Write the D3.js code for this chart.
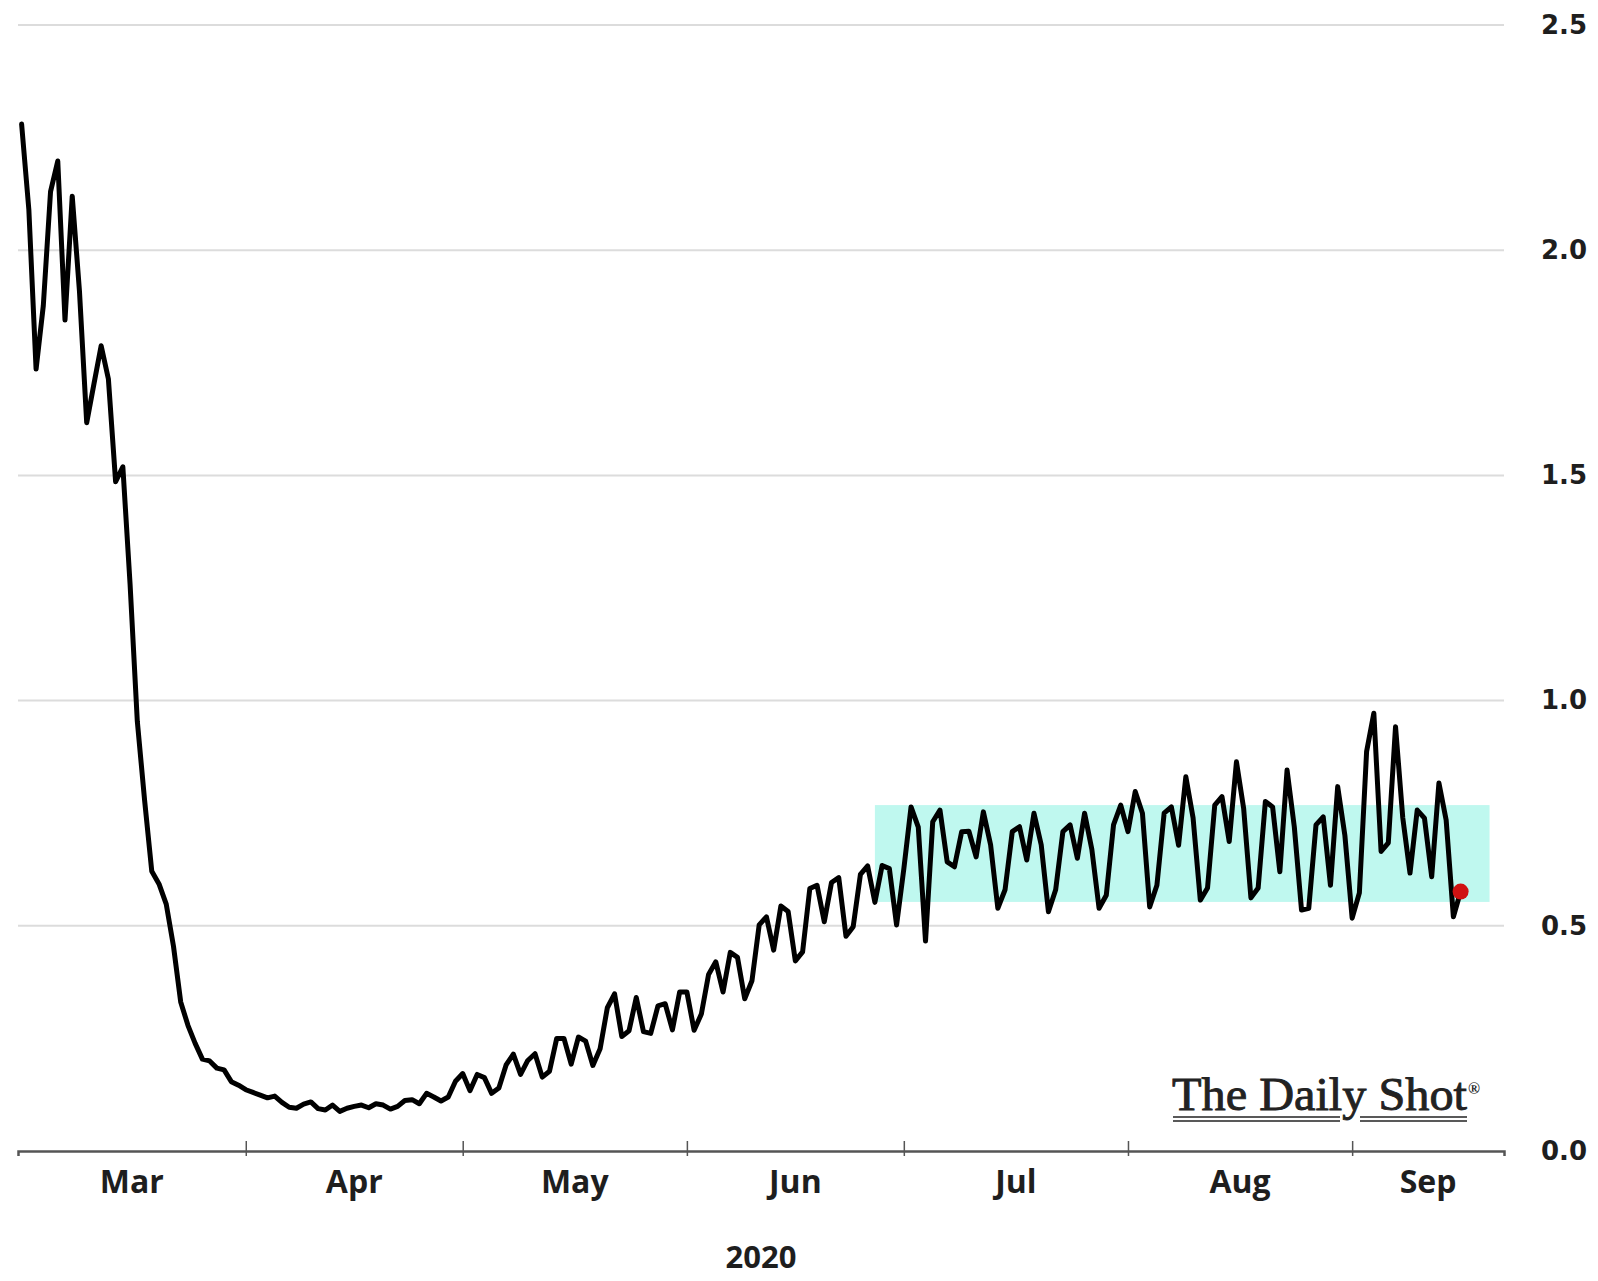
<!DOCTYPE html>
<html>
<head>
<meta charset="utf-8">
<script src="https://cdn.jsdelivr.net/npm/d3@7"></script>
<style>
  html, body { margin: 0; padding: 0; background: #fff; }
  svg { display: block; }
</style>
</head>
<body>
<svg id="chart" width="1598" height="1281"></svg>
<script>
// daily values (millions), one array per month of 2020
const marVals = [2.280, 2.090, 1.736, 1.877, 2.130, 2.198, 1.845, 2.120, 1.909, 1.617,
  1.703, 1.788, 1.714, 1.486, 1.519, 1.258, 0.954, 0.780, 0.621, 0.593,
  0.548, 0.455, 0.331, 0.279, 0.239, 0.204, 0.200, 0.184, 0.180, 0.154, 0.146];
const aprVals = [0.136, 0.130, 0.124, 0.118, 0.122, 0.108, 0.097, 0.095, 0.104, 0.109,
  0.094, 0.091, 0.102, 0.088, 0.095, 0.099, 0.102, 0.096, 0.105, 0.102,
  0.093, 0.099, 0.112, 0.114, 0.105, 0.128, 0.120, 0.111, 0.120, 0.155];
const mayVals = [0.172, 0.134, 0.170, 0.163, 0.128, 0.140, 0.191, 0.215, 0.170, 0.201,
  0.216, 0.164, 0.177, 0.250, 0.250, 0.193, 0.253, 0.244, 0.190, 0.227,
  0.318, 0.349, 0.254, 0.267, 0.341, 0.265, 0.261, 0.322, 0.327, 0.269, 0.353];
const junVals = [0.353, 0.268, 0.304, 0.392, 0.420, 0.353, 0.441, 0.430, 0.338, 0.378,
  0.502, 0.520, 0.446, 0.544, 0.532, 0.422, 0.442, 0.583, 0.590, 0.509,
  0.596, 0.607, 0.477, 0.498, 0.614, 0.633, 0.552, 0.634, 0.627, 0.502];
const julVals = [0.626, 0.764, 0.719, 0.466, 0.731, 0.757, 0.642, 0.631, 0.709, 0.710,
  0.653, 0.753, 0.680, 0.539, 0.580, 0.709, 0.720, 0.646, 0.750, 0.680,
  0.531, 0.580, 0.709, 0.724, 0.650, 0.750, 0.670, 0.539, 0.568, 0.724, 0.768];
const augVals = [0.709, 0.798, 0.750, 0.542, 0.590, 0.750, 0.764, 0.679, 0.831, 0.740,
  0.557, 0.584, 0.768, 0.787, 0.687, 0.864, 0.760, 0.562, 0.584, 0.776,
  0.764, 0.620, 0.846, 0.720, 0.535, 0.539, 0.724, 0.742, 0.590, 0.809, 0.700];
const sepVals = [0.517, 0.573, 0.887, 0.972, 0.665, 0.684, 0.942, 0.740, 0.617, 0.757,
  0.739, 0.609, 0.817, 0.735, 0.520, 0.576];

const monthNames = ["Mar", "Apr", "May", "Jun", "Jul", "Aug", "Sep"];
const yTicks = [0, 0.5, 1.0, 1.5, 2.0, 2.5];

// highlighted range: late Jun to Sep 20, 0.553 - 0.768
const bandDates = [new Date(2020, 5, 27), new Date(2020, 8, 20)];
const bandValues = [0.553, 0.768];

const monthArrays = [marVals, aprVals, mayVals, junVals, julVals, augVals, sepVals];
const series = [];
monthArrays.forEach((vals, m) => {
  vals.forEach((v, i) => {
    series.push({ date: new Date(2020, m + 2, i + 1), value: v });
  });
});

const svg = d3.select("#chart");

const axisStart = new Date(2020, 1, 29, 12);
const axisEnd = new Date(2020, 8, 22);

const x = d3.scaleTime().domain([axisStart, axisEnd]).range([18, 1504]);
const y = d3.scaleLinear().domain([0, 2.5]).range([1151, 25]);

// gridlines
svg.append("g")
  .selectAll("line")
  .data(yTicks.filter((d) => d > 0))
  .enter()
  .append("line")
  .attr("x1", x.range()[0])
  .attr("x2", x.range()[1])
  .attr("y1", (d) => y(d))
  .attr("y2", (d) => y(d))
  .attr("stroke", "#dcdcdc")
  .attr("stroke-width", 2);

// shaded band
svg.append("rect")
  .attr("x", x(bandDates[0]))
  .attr("y", y(bandValues[1]))
  .attr("width", x(bandDates[1]) - x(bandDates[0]))
  .attr("height", y(bandValues[0]) - y(bandValues[1]))
  .attr("fill", "#bff8ef");

// x axis: month boundary ticks
const monthStarts = d3.timeMonth.range(new Date(2020, 3, 1), axisEnd);
const xAxis = d3.axisBottom(x)
  .tickValues(monthStarts)
  .tickSize(5)
  .tickFormat("");
const xg = svg.append("g")
  .attr("transform", `translate(0,${y(0)})`)
  .call(xAxis);
xg.select(".domain").attr("stroke", "#555").attr("stroke-width", 2.5);
xg.selectAll(".tick line").attr("y1", -10).attr("y2", 5)
  .attr("stroke", "#555").attr("stroke-width", 1.5);

// month labels centred in the visible part of each month
const monthBounds = [axisStart].concat(monthStarts).concat([axisEnd]);
svg.append("g")
  .selectAll("text")
  .data(monthNames)
  .enter()
  .append("text")
  .attr("x", (d, i) => (x(monthBounds[i]) + x(monthBounds[i + 1])) / 2)
  .attr("y", 1193)
  .attr("text-anchor", "middle")
  .attr("font-family", "'Open Sans', sans-serif")
  .attr("font-weight", 700)
  .attr("font-size", 32)
  .attr("fill", "#1e1e1e")
  .text((d) => d);

svg.append("text")
  .attr("x", (x.range()[0] + x.range()[1]) / 2)
  .attr("y", 1268)
  .attr("text-anchor", "middle")
  .attr("font-family", "'Open Sans', sans-serif")
  .attr("font-weight", 700)
  .attr("font-size", 31)
  .attr("fill", "#1e1e1e")
  .text("2020");

// y axis labels on the right
const yAxis = d3.axisRight(y)
  .tickValues(yTicks)
  .tickSize(0)
  .tickPadding(0)
  .tickFormat(d3.format(".1f"));
const yg = svg.append("g")
  .attr("transform", "translate(1541,0)")
  .call(yAxis);
yg.select(".domain").remove();
yg.selectAll("text")
  .attr("font-family", "'DejaVu Sans', sans-serif")
  .attr("font-weight", 700)
  .attr("font-size", 26)
  .attr("fill", "#1e1e1e");

// main line
const line = d3.line()
  .x((d) => x(d.date))
  .y((d) => y(d.value));

svg.append("path")
  .datum(series)
  .attr("d", line)
  .attr("fill", "none")
  .attr("stroke", "#000")
  .attr("stroke-width", 5)
  .attr("stroke-linejoin", "round")
  .attr("stroke-linecap", "round");

// latest point
const last = series[series.length - 1];
svg.append("circle")
  .attr("cx", x(last.date))
  .attr("cy", y(last.value))
  .attr("r", 8)
  .attr("fill", "#d01212");

// watermark
const wm = svg.append("g").attr("fill", "#222");
wm.append("text")
  .attr("x", 1172)
  .attr("y", 1110)
  .attr("font-family", "'Liberation Serif', serif")
  .attr("font-size", 47)
  .attr("stroke", "#222")
  .attr("stroke-width", 0.9)
  .attr("textLength", 295)
  .attr("lengthAdjust", "spacingAndGlyphs")
  .text("The Daily Shot");
wm.append("text")
  .attr("x", 1468)
  .attr("y", 1094)
  .attr("font-family", "'Liberation Serif', serif")
  .attr("font-weight", 700)
  .attr("font-size", 16)
  .text("®");
[1117, 1121].forEach((yy) => {
  wm.append("line").attr("x1", 1173).attr("x2", 1340).attr("y1", yy).attr("y2", yy)
    .attr("stroke", "#222").attr("stroke-width", 1.6);
  wm.append("line").attr("x1", 1360).attr("x2", 1467).attr("y1", yy).attr("y2", yy)
    .attr("stroke", "#222").attr("stroke-width", 1.6);
});
</script>
</body>
</html>
